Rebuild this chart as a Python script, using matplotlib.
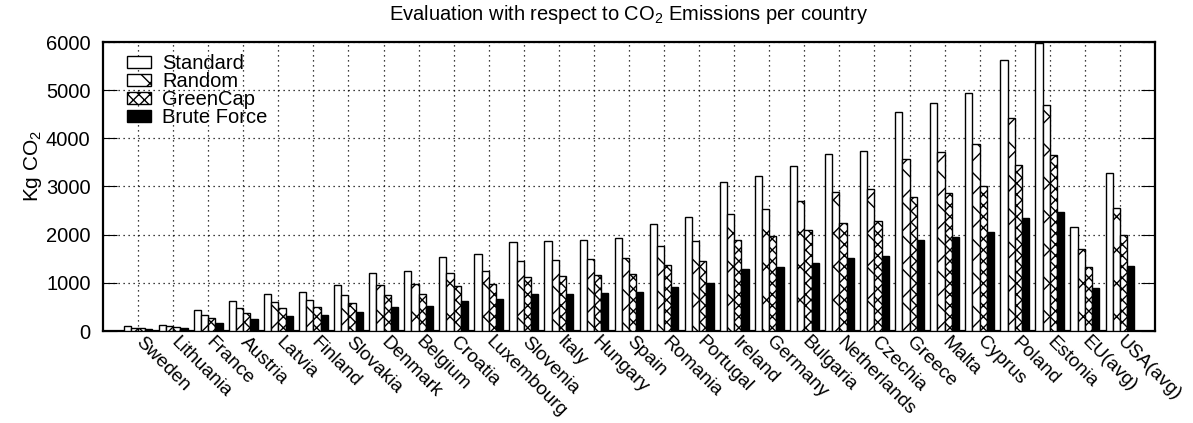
import numpy as np
import matplotlib
matplotlib.use("Agg")
import matplotlib.pyplot as plt

plt.rcParams['font.family'] = ['Liberation Sans', 'DejaVu Sans']
plt.rcParams['mathtext.fontset'] = 'custom'
plt.rcParams['mathtext.rm'] = 'Liberation Sans'
plt.rcParams['mathtext.default'] = 'rm'
plt.rcParams['hatch.linewidth'] = 1.0

# data
countries = ["Sweden", "Lithuania", "France", "Austria", "Latvia", "Finland", "Slovakia",
             "Denmark", "Belgium", "Croatia", "Luxembourg", "Slovenia", "Italy", "Hungary",
             "Spain", "Romania", "Portugal", "Ireland", "Germany", "Bulgaria", "Netherlands",
             "Czechia", "Greece", "Malta", "Cyprus", "Poland", "Estonia", "EU(avg)", "USA(avg)"]
standard = [95, 125, 430, 620, 760, 815, 955, 1205, 1240, 1530, 1590, 1845, 1865, 1895,
            1930, 2225, 2365, 3100, 3215, 3420, 3680, 3735, 4545, 4725, 4940, 5635, 5975,
            2150, 3270]
random_ = [70, 105, 330, 485, 600, 635, 755, 950, 970, 1195, 1245, 1450, 1475, 1495,
           1515, 1765, 1860, 2425, 2530, 2690, 2885, 2940, 3570, 3715, 3875, 4425, 4690,
           1695, 2560]
greencap = [55, 85, 265, 375, 470, 500, 580, 740, 760, 935, 975, 1125, 1140, 1155,
            1185, 1365, 1445, 1890, 1970, 2095, 2245, 2280, 2780, 2875, 3010, 3445, 3650,
            1320, 1990]
brute = [35, 55, 175, 255, 315, 340, 395, 500, 510, 630, 655, 770, 770, 780,
         800, 920, 990, 1280, 1335, 1415, 1520, 1550, 1880, 1955, 2050, 2340, 2475,
         885, 1355]

series = [("Standard", standard, "white", ""),
          ("Random", random_, "white", "x"),
          ("GreenCap", greencap, "white", "xxx"),
          ("Brute Force", brute, "black", "")]

fig = plt.figure(figsize=(11.93, 4.23), dpi=100)
ax = fig.add_axes([103/1193, 1 - 331/423, (1155 - 103)/1193, (331 - 42)/423])

x = np.arange(len(countries))
w = 0.205
for k, (name, vals, fc, h) in enumerate(series):
    ax.bar(x + (k - 1.5) * w, vals, width=w, color=fc, edgecolor="black",
           hatch=h, linewidth=1.0, label=name, zorder=3)

ax.set_xlim(-1, len(countries))
ax.set_ylim(0, 6000)
ax.set_yticks(range(0, 6001, 1000))
ax.set_xticks(x)
ax.set_xticklabels(countries, rotation=-45, ha="left", va="center",
                   rotation_mode="anchor", fontsize=13.8)
ax.tick_params(axis="x", length=0, pad=6)
ax.tick_params(axis="y", direction="in", length=10, right=True, labelsize=14.5, pad=9)
ax.grid(True, linestyle=(0, (1, 3)), color="black", linewidth=0.9)
ax.set_axisbelow(True)
for s in ax.spines.values():
    s.set_linewidth(1.6)

ax.legend(loc="upper left", frameon=False, fontsize=14.5, handlelength=1.2,
          handleheight=0.55, labelspacing=-0.05, borderaxespad=0.0,
          handletextpad=0.55, bbox_to_anchor=(0.015, 0.986))

fig.text(629/1193, 1 - 14/423, "Evaluation with respect to CO$_2$ Emissions per country",
         ha="center", va="center", fontsize=14.5)
fig.text(33/1193, 1 - 166/423, "Kg CO$_2$", rotation=90, ha="center", va="center",
         fontsize=15)

fig.savefig("out.png", dpi=100)
